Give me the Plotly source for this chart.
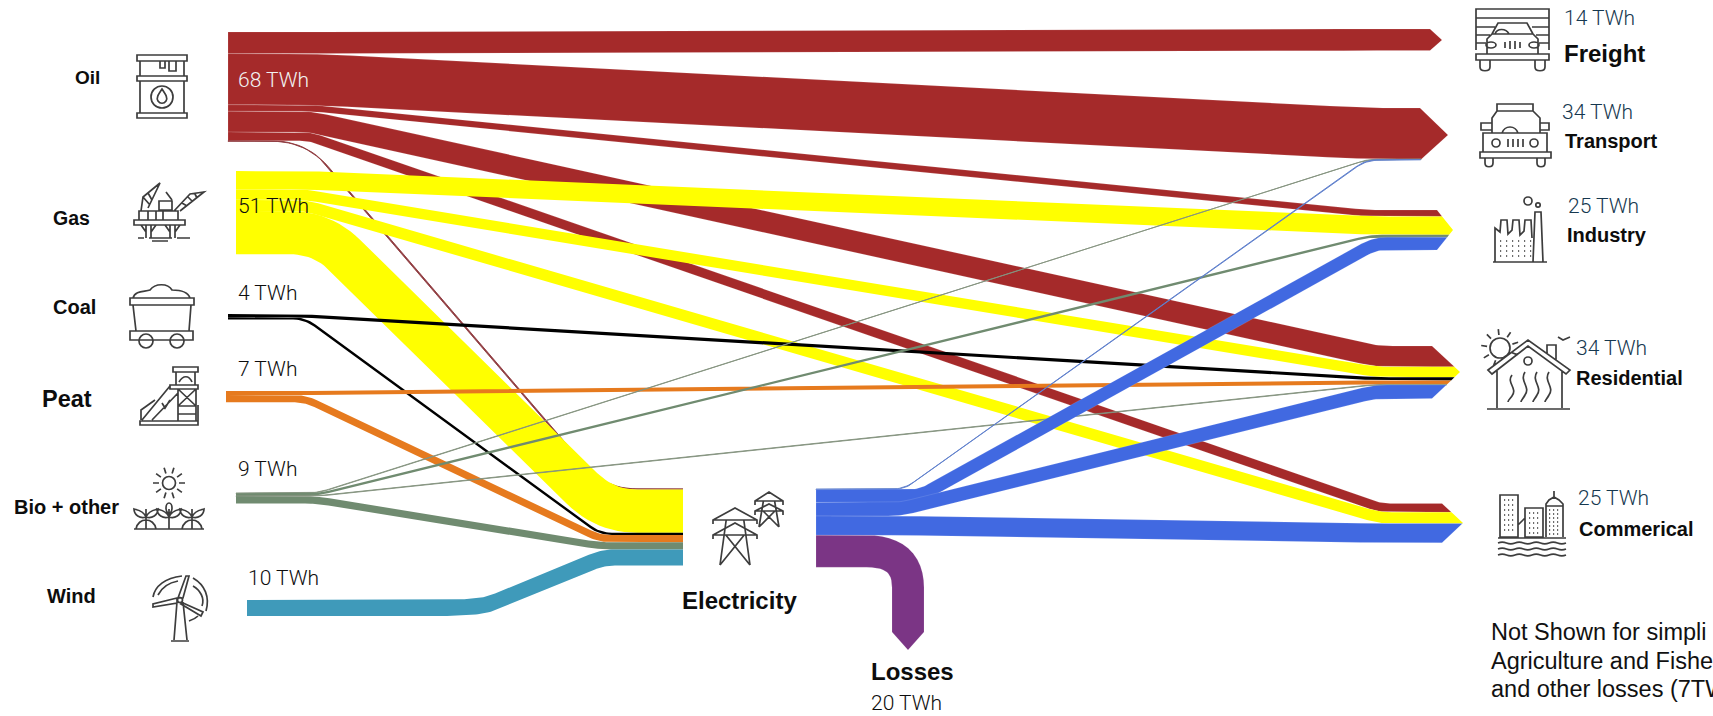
import math
import plotly.graph_objects as go

# ---------- data (TWh) ----------
sources = ["Oil", "Gas", "Coal", "Peat", "Bio + other", "Wind", "Electricity"]
oil_targets = ["Freight", "Transport", "Industry", "Residential", "Commerical", "Electricity"]
oil_values = [13.5, 32, 4, 13, 5.5, 0.3]
gas_targets = ["Industry", "Residential", "Commerical", "Electricity"]
gas_values = [11.5, 6.5, 7, 27]
coal_targets = ["Residential", "Electricity"]
coal_values = [2, 1.5]
peat_targets = ["Residential", "Electricity"]
peat_values = [2.5, 4.5]
bio_targets = ["Transport", "Industry", "Residential", "Electricity"]
bio_values = [0.3, 1.5, 0.3, 4.5]
wind_targets = ["Electricity"]
wind_values = [10]
elec_targets = ["Transport", "Industry", "Residential", "Commerical", "Losses"]
elec_values = [0.4, 8, 8.5, 12, 20]

left_labels = ["Oil", "Gas", "Coal", "Peat", "Bio + other", "Wind"]
left_amounts = ["68 TWh", "51 TWh", "4 TWh", "7 TWh", "9 TWh", "10 TWh"]
right_labels = ["Freight", "Transport", "Industry", "Residential", "Commerical"]
right_amounts = ["14 TWh", "34 TWh", "25 TWh", "34 TWh", "25 TWh"]
note_lines = ["Not Shown for simpli", "Agriculture and Fishe", "and other losses (7TW"]

# ---------- layout of the diagram (pixels on a 1713x716 canvas) ----------
W, H = 1713, 716
PX_PER_TWH = 1.6
COLORS = {"Oil": "#A52A2A", "Gas": "#FFFF00", "Coal": "#000000", "Peat": "#E67A1E",
          "Bio + other": "#708B70", "Wind": "#3F9ABA", "Electricity": "#4169E1", "Losses": "#7B3585"}
THIN_COLORS = {"Oil": "#8E3A3E", "Bio + other": "#84937F", "Electricity": "#6080CC"}
SRC_LEFT = {"Oil": 228, "Gas": 236, "Coal": 228, "Peat": 226, "Bio + other": 236, "Wind": 247, "Electricity": 816}
SRC_TOP = {"Oil": 32, "Gas": 171, "Coal": 314, "Peat": 391, "Bio + other": 493, "Wind": 600, "Electricity": 489}
TGT_TOP = {"Freight": 29, "Transport": 108, "Industry": 210, "Residential": 346, "Commerical": 503.5, "Electricity": 489}
# head_x, tip_x, tip_y
HEAD = {"Freight": (1430, 1442, 40), "Transport": (1420, 1448, 135), "Industry": (1437, 1453, 230),
        "Residential": (1432, 1460, 372), "Commerical": (1442, 1463, 523)}
ELEC_IN_X = 683
# (leave-flat x, reach-flat x) per source/target
BENDS = {
    ("Oil", "Freight"): (310, 1360), ("Oil", "Transport"): (310, 1367), ("Oil", "Industry"): (310, 1367),
    ("Oil", "Residential"): (310, 1377), ("Oil", "Commerical"): (310, 1380), ("Oil", "Electricity"): (306, 604),
    ("Gas", "Industry"): (305, 1375), ("Gas", "Residential"): (305, 1377), ("Gas", "Commerical"): (305, 1380),
    ("Gas", "Electricity"): (322, 605),
    ("Coal", "Residential"): (300, 1377), ("Coal", "Electricity"): (305, 600),
    ("Peat", "Residential"): (300, 1377), ("Peat", "Electricity"): (305, 600),
    ("Bio + other", "Transport"): (317, 1367), ("Bio + other", "Industry"): (317, 1370),
    ("Bio + other", "Residential"): (317, 1375), ("Bio + other", "Electricity"): (317, 600),
    ("Wind", "Electricity"): (455, 603),
    ("Electricity", "Transport"): (904, 1366), ("Electricity", "Industry"): (920, 1375),
    ("Electricity", "Residential"): (900, 1375), ("Electricity", "Commerical"): (905, 1375),
}
WIND_KINK = (487, 605.5)
LOSS_ELBOW_X = 908
LOSS_HEAD_Y, LOSS_TIP_Y = 632, 650

flows = []
for s, ts, vs in [("Oil", oil_targets, oil_values), ("Gas", gas_targets, gas_values),
                  ("Coal", coal_targets, coal_values), ("Peat", peat_targets, peat_values),
                  ("Bio + other", bio_targets, bio_values), ("Wind", wind_targets, wind_values),
                  ("Electricity", elec_targets, elec_values)]:
    for t, v in zip(ts, vs):
        flows.append((s, t, v))

# stacking of every flow inside its source and its target
src_cursor = dict(SRC_TOP)
tgt_cursor = dict(TGT_TOP)
placed = []
for s, t, v in flows:
    w = v * PX_PER_TWH
    ys = src_cursor[s] + w / 2
    src_cursor[s] += w
    yt = None
    if t in tgt_cursor:
        yt = tgt_cursor[t] + w / 2
        tgt_cursor[t] += w
    placed.append((s, t, v, w, ys, yt))
tgt_bottom = tgt_cursor


def round_path(pts, r):
    out = [pts[0]]
    for i in range(1, len(pts) - 1):
        (ax, ay), (bx, by), (cx, cy) = pts[i - 1], pts[i], pts[i + 1]
        l1 = math.hypot(bx - ax, by - ay)
        l2 = math.hypot(cx - bx, cy - by)
        d1, d2 = min(r, l1 * 0.45), min(r, l2 * 0.45)
        p0 = (bx - (bx - ax) / l1 * d1, by - (by - ay) / l1 * d1)
        p2 = (bx + (cx - bx) / l2 * d2, by + (cy - by) / l2 * d2)
        for k in range(13):
            u = k / 12
            out.append(((1 - u) ** 2 * p0[0] + 2 * u * (1 - u) * bx + u * u * p2[0],
                        (1 - u) ** 2 * p0[1] + 2 * u * (1 - u) * by + u * u * p2[1]))
    out.append(pts[-1])
    return out


def offsets(path, w):
    a, b = [], []
    n = len(path)
    for i, (x, y) in enumerate(path):
        x0, y0 = path[max(i - 1, 0)]
        x1, y1 = path[min(i + 1, n - 1)]
        ln = math.hypot(x1 - x0, y1 - y0) or 1
        nx, ny = -(y1 - y0) / ln, (x1 - x0) / ln
        a.append((x - nx * w / 2, y - ny * w / 2))
        b.append((x + nx * w / 2, y + ny * w / 2))
    return a, b


def head_points(t, y0, y1):
    hx, tx, ty = HEAD[t]
    top, bot = TGT_TOP[t], tgt_bottom[t]

    def X(y):
        h = (ty - top) if y < ty else (bot - ty)
        return hx + (tx - hx) * max(0, 1 - abs(y - ty) / h)

    pts = [(X(y0), y0)]
    if y0 < ty < y1:
        pts.append((tx, ty))
    pts.append((X(y1), y1))
    return pts


fig = go.Figure()
for s, t, v, w, ys, yt in placed:
    x0 = SRC_LEFT[s]
    r = max(12, w * 0.75)
    if t == "Losses":
        path = round_path([(x0, ys), (LOSS_ELBOW_X, ys), (LOSS_ELBOW_X, LOSS_HEAD_Y)], 48)
        a, b = offsets(path, w)
        poly = a + [(LOSS_ELBOW_X, LOSS_TIP_Y)] + b[::-1]
    else:
        xk, xt = BENDS[(s, t)]
        pts = [(x0, ys), (xk, ys)]
        if s == "Wind":
            pts.append(WIND_KINK)
        pts.append((xt, yt))
        if s == "Oil" and t == "Electricity":
            r = 34
        if t == "Electricity":
            pts.append((ELEC_IN_X, yt))
            path = round_path(pts, r)
            a, b = offsets(path, w)
            poly = a + b[::-1]
        else:
            pts.append((HEAD[t][0], yt))
            path = round_path(pts, r)
            a, b = offsets(path, w)
            poly = a + head_points(t, yt - w / 2, yt + w / 2) + b[::-1]
    poly.append(poly[0])
    thin = v < 1
    banded = s in ("Oil", "Electricity") and not thin
    fig.add_trace(go.Scatter(
        x=[p[0] for p in poly], y=[p[1] for p in poly], mode="lines", fill="toself",
        fillcolor=THIN_COLORS[s] if thin else COLORS[s if t != "Losses" else "Losses"],
        line=dict(color=THIN_COLORS[s] if thin else ("rgba(255,255,255,0.16)" if banded else "rgba(0,0,0,0)"),
                  width=0.9 if thin else (0.8 if banded else 0)),
        hoverinfo="text", text=f"{s} → {t}: {v} TWh", showlegend=False))


# ---------- icon helpers ----------
def P(*pts, close=False):
    s = "M" + " L".join(f"{x:.1f},{y:.1f}" for x, y in pts)
    return s + (" Z" if close else "")


def rect(x0, y0, x1, y1):
    return P((x0, y0), (x1, y0), (x1, y1), (x0, y1), close=True)


def circ(cx, cy, r, ry=None):
    ry = ry or r
    k = 0.5523
    return (f"M{cx - r},{cy} C{cx - r},{cy - k * ry} {cx - k * r},{cy - ry} {cx},{cy - ry} "
            f"C{cx + k * r},{cy - ry} {cx + r},{cy - k * ry} {cx + r},{cy} "
            f"C{cx + r},{cy + k * ry} {cx + k * r},{cy + ry} {cx},{cy + ry} "
            f"C{cx - k * r},{cy + ry} {cx - r},{cy + k * ry} {cx - r},{cy} Z")


def wave(x0, x1, y, n=6, a=2.0):
    st = (x1 - x0) / n
    s = f"M{x0},{y}"
    for i in range(n):
        xa = x0 + st * i
        sgn = -1 if i % 2 == 0 else 1
        s += f" Q{xa + st / 2:.1f},{y + sgn * a * 2} {xa + st:.1f},{y}"
    return s


def rays(cx, cy, r0, r1, n, a0=0.0, a1=2 * math.pi):
    out = []
    for i in range(n):
        an = a0 + (a1 - a0) * i / n
        out.append(P((cx + r0 * math.cos(an), cy + r0 * math.sin(an)),
                     (cx + r1 * math.cos(an), cy + r1 * math.sin(an))))
    return " ".join(out)


def dots(xs, ys):
    return " ".join(P((x, y), (x + 1.2, y)) for x in xs for y in ys)


def tower(cx, top, a1, a2, bot, w, f):
    return " ".join([
        P((cx - w, a1 + 4), (cx - w, a1), (cx, top), (cx + w, a1), (cx + w, a1 + 4)),
        P((cx - w, a2 + 4), (cx - w, a2), (cx, a1 + 3), (cx + w, a2), (cx + w, a2 + 4)),
        P((cx - w, a1), (cx + w, a1)), P((cx - w, a2), (cx + w, a2)),
        P((cx - f, bot), (cx - w * 0.4, a1)), P((cx + f, bot), (cx + w * 0.4, a1)),
        P((cx - f, bot), (cx + w * 0.42, a2)), P((cx + f, bot), (cx - w * 0.42, a2)),
    ])


def plant(cx, top, mound=True):
    s = [P((cx, 529), (cx, top)),
         f"M{cx},{top + 8} C{cx - 3},{top + 1} {cx - 9},{top + 1} {cx - 12},{top} C{cx - 12},{top + 6} {cx - 6},{top + 10} {cx},{top + 8}",
         f"M{cx},{top + 8} C{cx + 3},{top + 1} {cx + 9},{top + 1} {cx + 12},{top} C{cx + 12},{top + 6} {cx + 6},{top + 10} {cx},{top + 8}"]
    if mound:
        s.append(f"M{cx - 10},529 C{cx - 8},517 {cx + 8},517 {cx + 10},529")
    return " ".join(s)


def wheels(x0, x1, y0, y1):
    return f"M{x0},{y0} L{x0},{y1 - 4} C{x0},{y1 + 1} {x1},{y1 + 1} {x1},{y1 - 4} L{x1},{y0}"


icons = [
    # barrel
    " ".join([rect(137, 55, 187, 61), rect(137, 76, 187, 81), rect(137, 113, 187, 118),
              P((140, 61), (140, 76)), P((184, 61), (184, 76)), P((140, 81), (140, 113)), P((184, 81), (184, 113)),
              circ(162, 97, 11), "M162,89 C158,95 156,98 158,101 C160,104 164,104 166,101 C168,98 166,95 162,89 Z",
              P((160, 61), (160, 68), (165, 68), (165, 61)), P((169, 61), (169, 71), (176, 71), (176, 61))]),
    # rig
    " ".join([rect(134, 220, 185, 225), rect(139, 211, 178, 220), P((148, 211), (148, 220)), P((156, 211), (156, 220)),
              P((163, 211), (163, 220)), P((146, 225), (146, 238)), P((151, 225), (151, 238)), P((170, 225), (170, 238)),
              P((175, 225), (175, 238)), P((141, 225), (146, 232)), P((156, 225), (151, 232)), P((165, 225), (170, 232)), P((180, 225), (175, 232)),
              P((138, 238), (144, 238)), P((149, 238), (172, 238)), P((177, 238), (190, 238)), P((152, 241), (168, 241)),
              P((141, 211), (143, 197), (160, 183), (148, 208)), P((143, 197), (150, 205)), P((148, 193), (152, 200)),
              rect(159, 201, 172, 210), P((166, 192), (172, 200)),
              P((174, 211), (190, 194), (204, 192), (180, 211)), P((182, 203), (187, 206)), P((188, 197), (192, 201)), P((195, 194), (197, 198))]),
    # cart
    " ".join(["M133,298 C135,290 145,292 150,290 C155,283 168,283 172,290 C180,290 188,292 190,298",
              rect(130, 298, 194, 305), P((133, 305), (136, 331)), P((191, 305), (189, 331)),
              rect(130, 331, 193, 340), circ(146, 341, 7), circ(177, 341, 7)]),
    # peat tower
    " ".join([rect(173, 367, 198, 372), rect(176, 372, 195, 385), "M179,382 C183,375 189,375 192,382", rect(170, 385, 198, 389),
              P((178, 389), (178, 421)), P((196, 389), (196, 421)), P((178, 389), (196, 406)), P((196, 389), (178, 406)),
              P((178, 406), (196, 406)), P((178, 414), (196, 414)), P((142, 420), (170, 386)), P((152, 420), (178, 393)),
              P((141, 420), (141, 410), (155, 400)), rect(140, 421, 198, 425), P((198, 405), (198, 421)), P((162, 403), (165, 408), (170, 400))]),
    # bio
    " ".join([circ(169, 483, 6.5), rays(169, 483, 10, 16, 10), P((134, 529), (204, 529)),
              plant(146, 509), plant(192, 509), plant(169, 509, mound=False), circ(169, 508, 3, 5)]),
    # wind turbine
    " ".join([circ(180, 600, 2.5), P((177, 602), (174, 640)), P((183, 602), (187, 640)), P((171, 641), (189, 641)),
              P((178, 598), (186, 576), (189, 576), (183, 598), close=True),
              P((177, 598), (153, 604), (153, 607), (177, 603), close=True),
              P((183, 603), (203, 612), (201, 616), (181, 604), close=True),
              "M153,597 C155,586 165,578 182,576", "M158,595 C161,589 167,583 178,581",
              "M193,578 C205,585 210,597 206,611", "M193,586 C200,590 205,598 202,606", "M189,621 C192,620 196,618 198,616"]),
    # pylons
    tower(735, 508, 520, 535, 565, 22, 15),
    tower(769, 492, 501, 511, 527, 14, 10),
    # freight
    " ".join([P((1476, 50), (1476, 9), (1549, 9), (1549, 50)), P((1476, 18), (1549, 18)), P((1476, 27), (1495, 27)), P((1532, 27), (1549, 27)),
              P((1476, 35), (1490, 35)), P((1536, 35), (1549, 35)), P((1476, 43), (1486, 43)), P((1539, 43), (1549, 43)),
              rect(1476, 54, 1549, 60), P((1487, 54), (1487, 39), (1492, 34), (1498, 23), (1527, 23), (1533, 34), (1538, 39), (1538, 54)),
              P((1492, 34), (1533, 34)), circ(1491, 45, 5, 3), circ(1534, 45, 5, 3), "M1495,34 C1497,28 1506,28 1509,34",
              P((1505, 42), (1505, 48)), P((1510, 41), (1510, 49)), P((1515, 41), (1515, 49)), P((1520, 42), (1520, 48)),
              wheels(1480, 1490, 60, 71), wheels(1535, 1545, 60, 71)]),
    # car
    " ".join([rect(1497, 104, 1533, 111), P((1492, 133), (1492, 118), (1497, 111)), P((1540, 133), (1540, 118), (1533, 111)),
              rect(1481, 123, 1492, 130), rect(1540, 123, 1549, 130), rect(1483, 133, 1547, 152), rect(1480, 152, 1551, 158),
              wheels(1485, 1493, 158, 167), wheels(1537, 1545, 158, 167), circ(1496, 143, 4), circ(1534, 143, 4),
              "M1502,133 C1505,125 1515,125 1518,133",
              P((1508, 139), (1508, 147)), P((1513, 139), (1513, 147)), P((1518, 139), (1518, 147)), P((1523, 139), (1523, 147))]),
    # factory
    " ".join([P((1493, 262), (1547, 262)), P((1533, 262), (1535, 212), (1541, 212), (1543, 262)), circ(1528, 201, 4), circ(1538, 205, 2.2),
              P((1495, 262), (1495, 228), (1500, 232), (1501, 220), (1507, 220), (1508, 234), (1512, 230), (1513, 220), (1519, 220), (1520, 235),
                (1524, 231), (1525, 220), (1531, 220), (1532, 238)),
              dots(range(1500, 1531, 6), range(241, 260, 5))]),
    # house
    " ".join([P((1488, 370), (1528, 340), (1570, 370), (1566, 374), (1528, 346), (1492, 374), close=True),
              P((1497, 371), (1497, 408)), P((1562, 371), (1562, 408)), P((1487, 409), (1570, 409)), circ(1528, 361, 4),
              P((1547, 353), (1547, 345), (1556, 345), (1556, 360)),
              circ(1500, 348, 10), rays(1500, 348, 13, 19, 8, math.radians(110), math.radians(420)),
              P((1558, 337), (1563, 340), (1570, 337)),
              "M1512,375 C1506,383 1518,388 1512,396 C1510,399 1508,400 1508,402",
              "M1525,372 C1519,381 1531,387 1525,395 C1523,399 1521,400 1521,402",
              "M1537,372 C1531,381 1543,387 1537,395 C1535,399 1533,400 1533,402",
              "M1549,372 C1543,381 1555,387 1549,395 C1547,399 1545,400 1545,402"]),
    # city
    " ".join([rect(1500, 495, 1518, 537), rect(1525, 508, 1543, 537), P((1518, 525), (1525, 518)),
              P((1546, 537), (1546, 504), (1549, 500), (1554, 497), (1559, 500), (1563, 504), (1563, 537)), P((1554, 497), (1554, 491)), P((1546, 506), (1563, 506)),
              dots(range(1504, 1516, 4), range(500, 535, 5)), dots(range(1529, 1541, 4), range(513, 535, 5)),
              dots(range(1549, 1561, 4), range(510, 535, 4)), P((1498, 538), (1566, 538)),
              wave(1498, 1566, 543, 8, 0.8), wave(1498, 1566, 549, 8, 0.8), wave(1498, 1566, 555, 8, 0.8)]),
]
shapes = [dict(type="path", path=p, xref="x", yref="y", layer="above",
               line=dict(color="#3d3d3d", width=1.7)) for p in icons]

# ---------- text ----------
BOLD = "Liberation Sans"
LIGHT = "Roboto"
DARK = "#0d0d0d"
BLUE = "#16384f"
TEXT_PAD = 3
ann = []


def text(x, y, s, size, color=DARK, family=BOLD, weight=700):
    ann.append(dict(x=x - TEXT_PAD, y=y, text=s, xref="x", yref="y", showarrow=False, xanchor="left", yanchor="middle",
                    align="left", font=dict(family=family, size=size, color=color, weight=weight)))


left_pos = [(76, 77, 19), (54, 218, 19.5), (54, 307, 20), (43, 399, 23.5), (15, 507, 20), (48, 596, 20)]
for s, (x, y, sz) in zip(left_labels, left_pos):
    text(x, y, s, sz)
amt_pos = [(239, 80), (239, 206), (239, 293), (239, 369), (239, 469), (249, 578)]
amt_col = ["#f2f2f2", DARK, DARK, DARK, DARK, DARK]
for s, (x, y), c in zip(left_amounts, amt_pos, amt_col):
    text(x, y, s, 21, c, LIGHT, 300)
rlab_pos = [(1565, 53, 24), (1566, 141, 20), (1568, 235, 20), (1577, 378, 20), (1580, 529, 20)]
for s, (x, y, sz) in zip(right_labels, rlab_pos):
    text(x, y, s, sz)
ramt_pos = [(1565, 18), (1563, 112), (1569, 206), (1577, 348), (1579, 498)]
for s, (x, y) in zip(right_amounts, ramt_pos):
    text(x, y, s, 21, BLUE, LIGHT, 300)
text(683, 600, "Electricity", 24)
text(872, 671, "Losses", 24)
text(872, 703, "20 TWh", 21, DARK, LIGHT, 300)
for s, y in zip(note_lines, (632, 660.5, 689)):
    text(1492, y, s, 23.5, "#111111", BOLD, 400)

fig.update_layout(
    width=W, height=H, margin=dict(l=0, r=0, t=0, b=0), paper_bgcolor="white", plot_bgcolor="white",
    showlegend=False, shapes=shapes, annotations=ann,
    xaxis=dict(range=[0, W], visible=False, fixedrange=True),
    yaxis=dict(range=[H, 0], visible=False, fixedrange=True),
)
fig.write_html("out.html", config={"displayModeBar": False},
               post_script="document.body.style.margin='0';document.documentElement.style.overflow='hidden';")
